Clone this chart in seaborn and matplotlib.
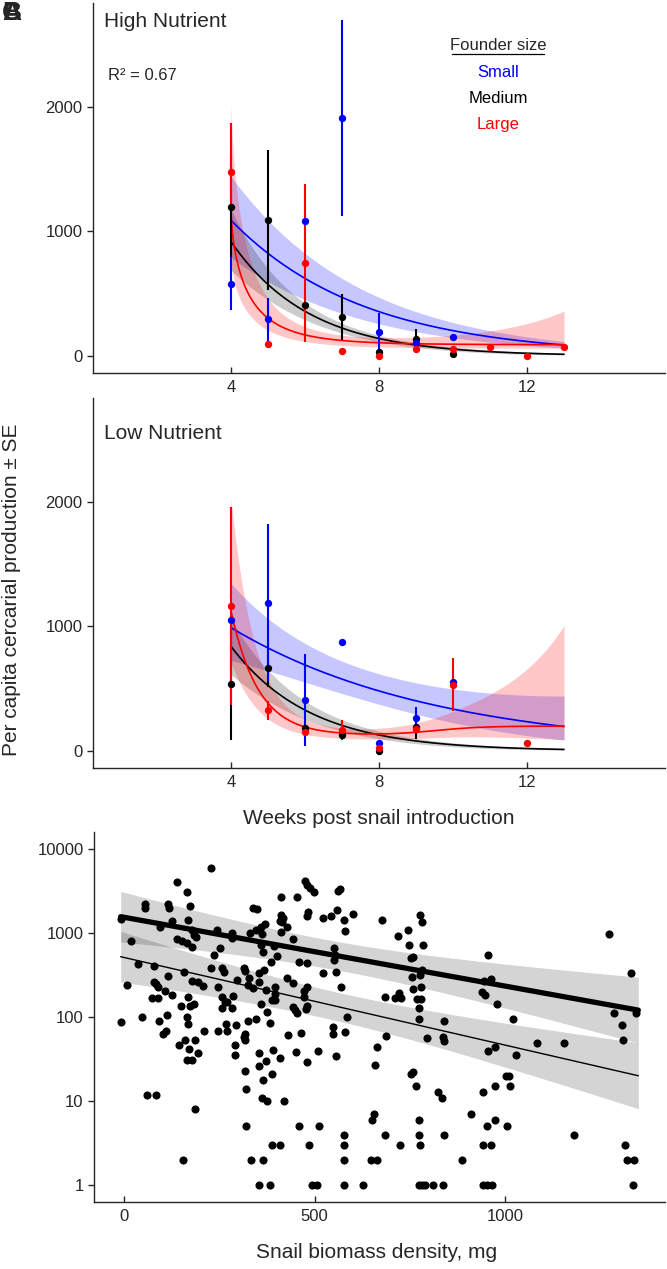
import numpy as np
import pandas as pd
import matplotlib
matplotlib.use("Agg")
import matplotlib.pyplot as plt
import seaborn as sns

nan = np.nan

# ---------------- Panels A/B: per capita cercarial production ----------------
# High nutrient
hi_small_weeks = [4, 5, 6, 7, 8, 9, 10]
hi_small_mean = [581, 295, 1084, 1914, 195, 102, 150]
hi_small_low = [369, 120, nan, 1127, 35, nan, nan]
hi_small_high = [793, 463, nan, 2699, 343, nan, nan]

hi_medium_weeks = [4, 5, 6, 7, 8, 9, 10]
hi_medium_mean = [1197, 1090, 407, 313, 35, 134, 14]
hi_medium_low = [797, 530, nan, 128, nan, 48, nan]
hi_medium_high = [1597, 1655, nan, 498, nan, 217, nan]

hi_large_weeks = [4, 5, 6, 7, 8, 9, 10, 11, 12, 13]
hi_large_mean = [1480, 99, 745, 43, 2, 56, 56, 70, 2, 70]
hi_large_low = [1200, nan, 110, nan, nan, nan, nan, nan, nan, nan]
hi_large_high = [1874, nan, 1382, nan, nan, nan, nan, nan, nan, nan]

# Low nutrient
lo_small_weeks = [4, 5, 6, 7, 8, 9, 10]
lo_small_mean = [1051, 1191, 411, 876, 67, 263, 551]
lo_small_low = [nan, 560, 40, nan, nan, 177, nan]
lo_small_high = [nan, 1823, 780, nan, nan, 349, nan]

lo_medium_weeks = [4, 5, 6, 7, 8, 9]
lo_medium_mean = [540, 667, 183, 129, 3, 191]
lo_medium_low = [89, 511, nan, nan, nan, 95]
lo_medium_high = [990, 815, nan, nan, nan, 287]

lo_large_weeks = [4, 5, 6, 7, 8, 9, 10, 12]
lo_large_mean = [1164, 331, 156, 169, 27, 177, 532, 62]
lo_large_low = [371, 250, nan, 89, nan, nan, 317, nan]
lo_large_high = [1962, 398, nan, 250, nan, nan, 744, nan]

# fitted decay curves: [a, b, q, c, g]  ->  c + a*exp(-b*(t-4)^q) + g*sigmoid
hi_small_fit = [1090, 0.28, 1.0, 0, 0]
hi_medium_fit = [918, 0.47, 1.0, 0, 0]
hi_large_fit = [1060, 1.605, 0.694, 90, 0]
lo_small_fit = [990, 0.18, 1.0, 0, 0]
lo_medium_fit = [840, 0.47, 1.0, 0, 0]
lo_large_fit = [998, 1.35, 1.0, 125, 75]
# confidence bands (log scale): [up0, up1, low0, low1, centre]
hi_small_ci = [0.28, 0.0, 0.32, 0.0, 8]
hi_medium_ci = [0.16, 0.01, 0.20, 0.01, 7]
hi_large_ci = [0.30, 0.030, 0.38, 0.0, 7]
lo_small_ci = [0.22, 0.014, 0.22, 0.014, 6.5]
lo_medium_ci = [0.20, 0.005, 0.25, 0.01, 6.5]
lo_large_ci = [0.25, 0.038, 0.35, 0.012, 7]

week_ticks = [4, 8, 12]
prod_ticks = [0, 1000, 2000]
founder_sizes = ["Small", "Medium", "Large"]
founder_colors = {"Small": "#0000FF", "Medium": "#000000", "Large": "#FF0000"}

# ---------------- Panel C: snail biomass vs production ----------------
biomass = [229, 140, 166, 54, 55, 114, 118, 173, -7, 125, 95, 168, 179, 184, 188, 243, 282, 284,
           19, 140, 151, 166, 177, 251, 236, 37, 79, 227, 258, 261, 158, 116, 7, 79, 83, 89,
           178, 193, 206, 247, 296, 107, 127, 72, 88, 168, 258, 264, 271, 285, 149, 173, 184,
           258, 284, 48, -9, 112, 164, 92, 168, 267, 293, 210, 247, 269, 109, 102, 160, 186,
           144, 171, 291, 195, 164, 177, 291, 61, 84, 186, 155,
           475, 480, 487, 499, 561, 567, 411, 453, 338, 348, 484, 481, 411, 416, 408, 414,
           522, 543, 558, 578, 600, 678, 427, 411, 580, 370, 359, 346, 331, 361, 443, 359,
           394, 364, 402, 550, 554, 551, 385, 458, 480, 522, 556, 315, 318, 368, 353, 329,
           427, 444, 353, 324, 338, 480, 472, 471, 373, 396, 569, 396, 388, 396, 359, 444,
           449, 455, 480, 478, 376, 685, 584, 324, 346, 383, 318, 315, 318, 431, 464, 548,
           548, 580, 687, 665, 390, 353, 409, 451, 510, 556, 373, 354, 481, 658, 318, 388,
           364, 320, 361, 374, 420, 650, 657, 320, 460, 511, 685, 578, 578, 388, 409, 486,
           333, 364, 578, 648, 663, 354, 382, 493, 506, 578, 628,
           777, 783, 745, 718, 748, 786, 753, 759, 955, 781, 777, 755, 780, 759, 768, 780,
           775, 775, 722, 711, 727, 939, 948, 944, 963, 978, 840, 1020, 794, 838, 841, 956,
           974, 1028, 753, 758, 766, 823, 834, 943, 974, 1002, 1011, 1013, 773, 911, 974,
           952, 1004, 774, 839, 724, 777, 941, 963, 888, 773, 781, 790, 812, 838, 943, 952, 965,
           1274, 1330, 1285, 1343, 1308, 1311, 1084, 1154, 1180, 1314, 1320, 1339, 1337]
production = [6000, 4080, 3050, 2200, 1970, 2200, 2000, 2100, 1470, 1390, 1190, 1430, 1100, 950,
              905, 1090, 990, 865, 810, 850, 805, 755, 690, 655, 550, 425, 405, 385, 380, 345,
              345, 310, 240, 265, 245, 228, 270, 260, 235, 230, 275, 204, 183, 170, 170, 175,
              171, 152, 150, 180, 135, 135, 143, 127, 129, 101, 88, 106, 101, 90, 83, 83, 80,
              69, 69, 69, 68, 63, 54, 54, 47, 42, 46, 37, 31, 31, 35, 12, 12, 8, 2,
              4160, 3720, 3400, 3100, 3160, 3310, 2660, 2660, 2000, 1930, 1760, 1580, 1640, 1520,
              1390, 1340, 1520, 1590, 1900, 1430, 1670, 1430, 1190, 1040, 1070, 1270, 1190, 1100,
              990, 970, 840, 720, 700, 590, 540, 655, 550, 475, 455, 455, 435, 330, 340, 385,
              355, 360, 330, 290, 290, 255, 265, 240, 220, 230, 204, 175, 208, 225, 225, 186,
              159, 159, 143, 133, 121, 111, 136, 124, 116, 171, 100, 91, 95, 84, 63, 58, 53, 61,
              65, 76, 63, 67, 59, 44, 41, 37, 33, 38, 40, 34, 30, 26, 29, 27, 23, 21, 18, 14,
              11, 10, 10, 6, 7, 5, 5, 5, 4, 4, 3, 3, 3, 3, 2, 2, 2, 2, 2, 1, 1, 1, 1, 1, 1,
              1640, 1350, 1100, 920, 720, 720, 510, 520, 550, 360, 315, 300, 230, 213, 162, 162,
              127, 95, 191, 170, 170, 200, 183, 270, 280, 143, 91, 96, 56, 58, 52, 40, 44, 35,
              21, 22, 15, 13, 11, 13, 15, 20, 20, 15, 6, 7, 6, 5, 5, 4, 4, 3, 3, 3, 3, 2, 1, 1,
              1, 1, 1, 1, 1, 1,
              965, 335, 113, 113, 80, 54, 49, 49, 4, 3, 2, 2, 1]
# log10-scale regressions: [intercept, slope]
reg_thick = [3.187, -8.18e-4]
reg_thin = [2.709, -1.042e-3]
reg_ci = [0.17, 4.42e-4, 550]          # [min half width, growth, centre]
reg_range = [-9, 1350]
biomass_ticks = [0, 500, 1000]
log_ticks = [1, 10, 100, 1000, 10000]

# ---------------------------------------------------------------------------
sns.set_theme(style="ticks")
plt.rcParams["font.family"] = ["Liberation Sans", "DejaVu Sans"]
plt.rcParams["axes.linewidth"] = 1.0

W, H = 667, 1269
fig = plt.figure(figsize=(W / 100, H / 100), dpi=100)


def fig_rect(left, top, right, bottom):
    return [left / W, 1 - bottom / H, (right - left) / W, (bottom - top) / H]


ax_hi = fig.add_axes(fig_rect(93, 3, 665, 373))
ax_lo = fig.add_axes(fig_rect(93, 398, 665, 768))
ax_c = fig.add_axes(fig_rect(94, 832, 665, 1202))


def curve(t, p):
    a, b, q, c, g = p
    return c + a * np.exp(-b * (t - 4) ** q) + g / (1 + np.exp(-1.5 * (t - 9.5)))


def draw_panel(ax, groups):
    t = np.linspace(4, 13, 300)
    alphas = {"Small": 0.22, "Medium": 0.2, "Large": 0.22}
    for name, (wk, mean, low, high, fitp, ci) in groups.items():
        col = founder_colors[name]
        fit = curve(t, fitp)
        u0, u1, l0, l1, xm = ci
        up = fit * np.exp(u0 + u1 * (t - xm) ** 2)
        dn = fit * np.exp(-(l0 + l1 * (t - xm) ** 2))
        ax.fill_between(t, dn, up, color=col, alpha=alphas[name], lw=0, zorder=1)
    for name, (wk, mean, low, high, fitp, ci) in groups.items():
        col = founder_colors[name]
        fit = curve(t, fitp)
        sns.lineplot(x=t, y=fit, color=col, lw=1.2, ax=ax, zorder=2, sort=False)
    for name in ["Medium", "Small", "Large"]:
        wk, mean, low, high, fitp, ci = groups[name]
        df = pd.DataFrame({"w": wk, "lo": low, "hi": high}).dropna()
        ax.vlines(df["w"], df["lo"], df["hi"], color=founder_colors[name], lw=1.5, zorder=3)
    for name in ["Medium", "Small", "Large"]:
        wk, mean, low, high, fitp, ci = groups[name]
        df = pd.DataFrame({"w": wk, "m": mean})
        sns.scatterplot(data=df, x="w", y="m", color=founder_colors[name], s=28,
                        linewidth=0, ax=ax, zorder=4)
    ax.set_xlim(0.27, 15.73)
    ax.set_ylim(-137, 2835)
    ax.set_xticks(week_ticks)
    ax.set_yticks(prod_ticks)
    ax.set_xlabel("")
    ax.set_ylabel("")
    sns.despine(ax=ax)
    ax.tick_params(axis="x", direction="in", length=4.5, width=1, labelsize=12, pad=5)
    ax.tick_params(axis="y", direction="out", length=4.5, width=1, labelsize=12, pad=3)


draw_panel(ax_hi, {
    "Small": (hi_small_weeks, hi_small_mean, hi_small_low, hi_small_high, hi_small_fit, hi_small_ci),
    "Medium": (hi_medium_weeks, hi_medium_mean, hi_medium_low, hi_medium_high, hi_medium_fit, hi_medium_ci),
    "Large": (hi_large_weeks, hi_large_mean, hi_large_low, hi_large_high, hi_large_fit, hi_large_ci),
})
draw_panel(ax_lo, {
    "Small": (lo_small_weeks, lo_small_mean, lo_small_low, lo_small_high, lo_small_fit, lo_small_ci),
    "Medium": (lo_medium_weeks, lo_medium_mean, lo_medium_low, lo_medium_high, lo_medium_fit, lo_medium_ci),
    "Large": (lo_large_weeks, lo_large_mean, lo_large_low, lo_large_high, lo_large_fit, lo_large_ci),
})

ax_hi.text(0.019, 0.949, "High Nutrient", transform=ax_hi.transAxes, fontsize=15, va="center", ha="left")
ax_hi.text(0.026, 0.805, "R² = 0.67", transform=ax_hi.transAxes, fontsize=12, va="center", ha="left")
ax_lo.text(0.019, 0.905, "Low Nutrient", transform=ax_lo.transAxes, fontsize=15, va="center", ha="left")

ax_hi.text(0.708, 0.884, "Founder size", transform=ax_hi.transAxes, fontsize=12, ha="center", va="center")
ax_hi.plot([0.628, 0.789], [0.862, 0.862], transform=ax_hi.transAxes, color="black", lw=0.9)
for i, name in enumerate(founder_sizes):
    ax_hi.text(0.708, 0.8135 - 0.0703 * i, name, transform=ax_hi.transAxes, fontsize=12,
               ha="center", va="center", color=founder_colors[name])

# Panel C
xs = np.linspace(reg_range[0], reg_range[1], 200)
h0, h1, xc = reg_ci
hw = np.sqrt(h0 ** 2 + h1 ** 2 * (xs - xc) ** 2)
for reg in (reg_thick, reg_thin):
    lf = reg[0] + reg[1] * xs
    ax_c.fill_between(xs, 10 ** (lf - hw), 10 ** (lf + hw), color="black", alpha=0.17, lw=0, zorder=1)
dfc = pd.DataFrame({"biomass": biomass, "production": production})
sns.scatterplot(data=dfc, x="biomass", y="production", color="black", s=34, linewidth=0,
                ax=ax_c, zorder=2)
sns.lineplot(x=xs, y=10 ** (reg_thick[0] + reg_thick[1] * xs), color="black", lw=3.8, ax=ax_c, zorder=3)
sns.lineplot(x=xs, y=10 ** (reg_thin[0] + reg_thin[1] * xs), color="black", lw=1.0, ax=ax_c, zorder=3)
ax_c.set_yscale("log")
ax_c.set_ylim(0.632, 15900)
ax_c.set_xlim(-79, 1420)
ax_c.set_yticks(log_ticks)
ax_c.set_yticklabels([str(v) for v in log_ticks])
ax_c.yaxis.set_minor_locator(matplotlib.ticker.NullLocator())
ax_c.set_xticks(biomass_ticks)
ax_c.set_xlabel("")
ax_c.set_ylabel("")
sns.despine(ax=ax_c)
ax_c.tick_params(axis="x", direction="in", length=4.5, width=1, labelsize=12, pad=5)
ax_c.tick_params(axis="y", direction="out", length=4.5, width=1, labelsize=12, pad=3)

# shared labels
fig.text(12 / W, 1 - 590 / H, "Per capita cercarial production ± SE", rotation=90,
         fontsize=15, ha="center", va="center")
fig.text(379 / W, 1 - 818 / H, "Weeks post snail introduction", fontsize=15, ha="center", va="center")
fig.text(377 / W, 1 - 1253 / H, "Snail biomass density, mg", fontsize=15, ha="center", va="center")
for letter in ["A", "B", "C"]:
    fig.text(2 / W, 1 - 1 / H, letter, fontsize=19, fontweight="bold", ha="left", va="top")

fig.savefig("out.png", dpi=100)
